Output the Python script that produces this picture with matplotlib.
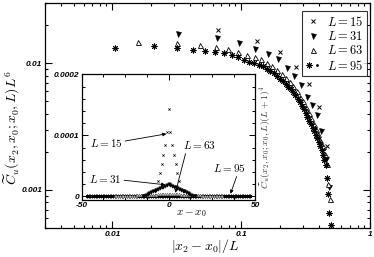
import numpy as np
import matplotlib
matplotlib.use('Agg')
import matplotlib.pyplot as plt
from matplotlib.ticker import FixedLocator, FixedFormatter, LogLocator, MultipleLocator, NullFormatter
from matplotlib.font_manager import FontProperties
from matplotlib.legend_handler import HandlerTuple

plt.rcParams['mathtext.fontset'] = 'cm'

# ---------------- data ----------------
sizes = [15, 31, 63, 95]
series_labels = ['$L = 15$', '$L = 31$', '$L = 63$', '$L = 95$']

main_L15 = [0.0183, 0.0151, 0.0122, 0.0093, 0.00686, 0.00453, 0.00221]
main_L31 = [0.01715, 0.0158, 0.01446, 0.0131, 0.01176, 0.01075, 0.00914, 0.00791,
            0.00673, 0.00542, 0.0047, 0.00392, 0.00294, 0.00175, 0.00106]
main_L63 = [0.01464, 0.01459, 0.01407, 0.01358, 0.01298, 0.01241, 0.01165, 0.01114,
            0.01075, 0.01009, 0.00956, 0.0089, 0.00828, 0.00771, 0.0071, 0.00661,
            0.00604, 0.00547, 0.005, 0.00453, 0.00407, 0.00368, 0.00334, 0.00305,
            0.00276, 0.0025, 0.00221, 0.00191, 0.0016, 0.00111, 0.00085]
main_L95 = [0.01334, 0.01382, 0.01334, 0.01286, 0.01263, 0.01219, 0.01197, 0.01155,
            0.01114, 0.01055, 0.01027, 0.0100, 0.00973, 0.00948, 0.00904, 0.00875,
            0.00844, 0.00799, 0.00759, 0.00726, 0.00689, 0.00655, 0.00623, 0.00595,
            0.00562, 0.00525, 0.00492, 0.00462, 0.00436, 0.00407, 0.00378, 0.00353,
            0.0033, 0.00309, 0.0029, 0.00273, 0.00257, 0.00238, 0.00221, 0.00206,
            0.00188, 0.00171, 0.00156, 0.00125, 0.00093, 0.00066, 0.00053]

# inset: values vs |x - x0| (index 0 = centre), profile symmetric
inset_L15_half = [1.43e-4, 1.05e-4, 8.45e-5, 6.8e-5, 5.3e-5, 3.9e-5, 2.57e-5, 1.3e-5]
inset_L31_half = [2.03e-5, 1.90e-5, 1.76e-5, 1.62e-5, 1.49e-5, 1.35e-5, 1.22e-5, 1.08e-5,
                  9.5e-6, 8.1e-6, 6.8e-6, 5.4e-6, 4.1e-6, 2.7e-6, 1.4e-6, 3e-7]
inset_L63_half = [4.0e-6, 3.9e-6, 3.75e-6, 3.6e-6, 3.5e-6, 3.35e-6, 3.2e-6, 3.1e-6,
                  2.95e-6, 2.8e-6, 2.7e-6, 2.55e-6, 2.45e-6, 2.3e-6, 2.15e-6, 2.05e-6,
                  1.9e-6, 1.8e-6, 1.65e-6, 1.5e-6, 1.4e-6, 1.25e-6, 1.15e-6, 1.0e-6,
                  0.85e-6, 0.75e-6, 0.6e-6, 0.5e-6, 0.35e-6, 0.25e-6, 0.1e-6, 0.05e-6]
inset_L95_half = [1.2e-6, 1.18e-6, 1.15e-6, 1.13e-6, 1.1e-6, 1.08e-6, 1.05e-6, 1.03e-6,
                  1.0e-6, 0.98e-6, 0.95e-6, 0.93e-6, 0.9e-6, 0.88e-6, 0.85e-6, 0.83e-6,
                  0.8e-6, 0.78e-6, 0.75e-6, 0.73e-6, 0.7e-6, 0.68e-6, 0.65e-6, 0.63e-6,
                  0.6e-6, 0.58e-6, 0.55e-6, 0.53e-6, 0.5e-6, 0.48e-6, 0.45e-6, 0.43e-6,
                  0.4e-6, 0.38e-6, 0.35e-6, 0.33e-6, 0.3e-6, 0.28e-6, 0.25e-6, 0.23e-6,
                  0.2e-6, 0.18e-6, 0.15e-6, 0.13e-6, 0.1e-6, 0.08e-6, 0.05e-6, 0.03e-6]

main_xticks = [0.01, 0.1, 1]
main_xticklabels = ['0.01', '0.1', '1']
main_yticks = [0.001, 0.01]
main_yticklabels = ['0.001', '0.01']
inset_xticks = [-50, 0, 50]
inset_xticklabels = ['-50', '0', '50']
inset_yticks = [0, 1e-4, 2e-4]
inset_yticklabels = ['0', '0.0001', '0.0002']

# ---------------- figure ----------------
W, H = 374, 257
fig = plt.figure(figsize=(W / 100, H / 100), dpi=100)

def fx(px):
    return px / W

def fy(py):
    return 1 - py / H

ax = fig.add_axes([fx(45), fy(228), fx(370) - fx(45), fy(3) - fy(228)])
ax.set_xscale('log')
ax.set_yscale('log')
ax.set_xlim(0.003, 1)
ax.set_ylim(0.0005, 0.03)

tickfont = FontProperties(family='Liberation Sans', weight='bold', style='italic', size=6)

main_data = [main_L15, main_L31, main_L63, main_L95]
handles = []
for L, vals, lab in zip(sizes, main_data, series_labels):
    r = np.arange(1, len(vals) + 1) / L
    if L == 15:
        h, = ax.plot(r, vals, ls='none', marker='x', ms=3.3, mew=0.7, color='black')
        handles.append(h)
    elif L == 31:
        h, = ax.plot(r, vals, ls='none', marker='v', ms=3.6, mew=0.4, color='black')
        handles.append(h)
    elif L == 63:
        h, = ax.plot(r, vals, ls='none', marker='^', ms=3.6, mew=0.6, mfc='white', mec='black')
        handles.append(h)
    else:
        h1, = ax.plot(r, vals, ls='none', marker=(8, 2, 0), ms=4.2, mew=0.7, color='black')
        h2, = ax.plot(r, vals, ls='none', marker='o', ms=2.0, mew=0, color='black')
        handles.append((h1, h2))

for spine in ax.spines.values():
    spine.set_linewidth(0.9)
ax.tick_params(which='both', direction='in', top=True, right=True, width=0.8)
ax.tick_params(which='major', length=5, pad=2)
ax.tick_params(which='minor', length=2.5)
ax.xaxis.set_major_locator(FixedLocator(main_xticks))
ax.xaxis.set_major_formatter(FixedFormatter(main_xticklabels))
ax.xaxis.set_minor_locator(LogLocator(base=10, subs=np.arange(2, 10), numticks=20))
ax.xaxis.set_minor_formatter(NullFormatter())
ax.yaxis.set_major_locator(FixedLocator(main_yticks))
ax.yaxis.set_major_formatter(FixedFormatter(main_yticklabels))
ax.yaxis.set_minor_locator(LogLocator(base=10, subs=np.arange(2, 10), numticks=20))
ax.yaxis.set_minor_formatter(NullFormatter())
for t in ax.get_xticklabels() + ax.get_yticklabels():
    t.set_fontproperties(tickfont)

leg = ax.legend(handles, series_labels, loc='upper right',
                bbox_to_anchor=(fx(367), fy(11)), bbox_transform=fig.transFigure,
                fontsize=9, frameon=True, fancybox=False, borderpad=0.3,
                labelspacing=0.1, handlelength=1.2, handletextpad=0.5,
                borderaxespad=0, handler_map={tuple: HandlerTuple(ndivide=None, pad=0)})
leg.get_frame().set_edgecolor('black')
leg.get_frame().set_linewidth(0.8)

fig.text(fx(205), fy(246), r'$|x_2 - x_0|/L$', fontsize=10, ha='center', va='center')
fig.text(fx(12), fy(128), r'$\widetilde{C}_u(x_2, x_0; x_0, L)L^6$', fontsize=10,
         ha='center', va='center', rotation=90)

# ---------------- inset ----------------
axi = fig.add_axes([fx(81.7), fy(199.5), fx(255.5) - fx(81.7), fy(74.3) - fy(199.5)])
axi.set_zorder(5)
axi.set_facecolor('white')
axi.set_xlim(-50, 50)
axi.set_ylim(-5e-6, 2e-4)

def full(half):
    half = list(half)
    n = len(half) - 1
    return np.arange(-n, n + 1), np.array(half[::-1] + half[1:])

x95, y95 = full(inset_L95_half)
x63, y63 = full(inset_L63_half)
x31, y31 = full(inset_L31_half)
x15, y15 = full(inset_L15_half)
axi.plot(x95, y95, ls='none', marker=(8, 2, 0), ms=2.6, mew=0.6, color='black')
axi.plot(x63, y63, ls='none', marker='^', ms=1.8, mew=0.4, mfc='white', mec='#555555')
axi.plot(x31, y31, ls='none', marker='v', ms=2.4, mew=0.4, color='black')
axi.plot(x15, y15, ls='none', marker='x', ms=1.6, mew=0.5, color='black')

for spine in axi.spines.values():
    spine.set_linewidth(0.9)
axi.tick_params(which='both', direction='in', top=True, right=True, width=0.7)
axi.tick_params(which='major', length=4, pad=2)
axi.tick_params(which='minor', length=2)
axi.xaxis.set_major_locator(FixedLocator(inset_xticks))
axi.xaxis.set_major_formatter(FixedFormatter(inset_xticklabels))
axi.xaxis.set_minor_locator(MultipleLocator(12.5))
axi.yaxis.set_major_locator(FixedLocator(inset_yticks))
axi.yaxis.set_major_formatter(FixedFormatter(inset_yticklabels))
axi.yaxis.set_minor_locator(MultipleLocator(2e-5))
for t in axi.get_xticklabels() + axi.get_yticklabels():
    t.set_fontproperties(tickfont)

arrow = dict(arrowstyle='-|>', lw=0.6, color='black', mutation_scale=5, shrinkA=0, shrinkB=0)
axi.annotate('$L = 15$', xy=(-1.3, 1.025e-4), xytext=(-36, 8.8e-5), fontsize=8,
             ha='center', va='center', arrowprops=dict(arrow, relpos=(1.0, 0.6)))
axi.annotate('$L = 31$', xy=(-1.9, 1.91e-5), xytext=(-36.5, 2.9e-5), fontsize=8,
             ha='center', va='center', arrowprops=dict(arrow, relpos=(1.0, 0.4)))
axi.annotate('$L = 63$', xy=(3.9, 6e-6), xytext=(17.7, 8.45e-5), fontsize=8,
             ha='center', va='center', arrowprops=dict(arrow, relpos=(0.1, 0.0)))
axi.annotate('$L = 95$', xy=(35.6, 4.4e-6), xytext=(35, 4.7e-5), fontsize=8,
             ha='center', va='center', arrowprops=dict(arrow, relpos=(0.75, 0.0)))

fig.text(fx(191), fy(214), '$x - x_0$', fontsize=8, ha='center', va='center')
fig.text(fx(265), fy(137), r'$\widetilde{C}_u(x_2, x_0; x_0, L)(L+1)^4$', fontsize=7,
         ha='center', va='center', rotation=90, color='#333333')

fig.savefig('out.png', dpi=100)
